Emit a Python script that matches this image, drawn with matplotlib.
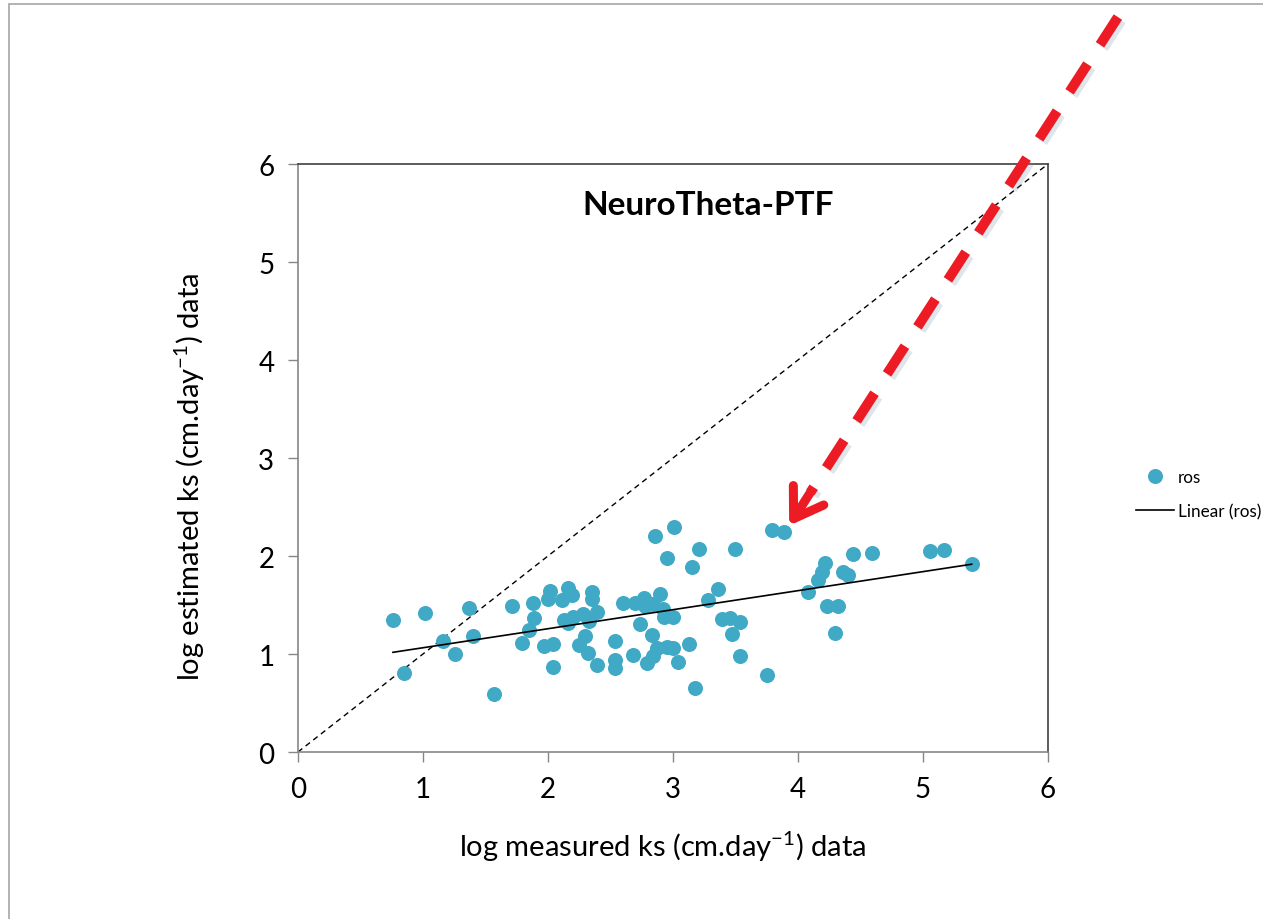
import numpy as np
import matplotlib
matplotlib.use("Agg")
import matplotlib.pyplot as plt
import matplotlib.patches as mpatches
import matplotlib.patheffects as pe

plt.rcParams['font.family'] = ['Lato', 'DejaVu Sans']
plt.rcParams['mathtext.fontset'] = 'custom'
plt.rcParams['mathtext.rm'] = 'Lato'

# log measured vs estimated ks
meas_ks = [0.76, 0.85, 1.02, 1.16, 1.26, 1.37, 1.40, 1.57, 1.71, 1.79,
           1.85, 1.88, 1.89, 1.97, 2.02, 2.00, 2.04, 2.04, 2.11, 2.16,
           2.19, 2.35, 2.35, 2.13, 2.16, 2.20, 2.28, 2.33, 2.39, 2.30,
           2.25, 2.32, 2.39, 2.54, 2.54, 2.54, 2.68, 2.60, 2.70, 2.77,
           2.78, 2.84, 2.90, 2.92, 2.93, 3.00, 2.74, 2.83, 2.87, 2.95,
           3.00, 2.84, 2.79, 3.04, 3.13, 3.18, 2.86, 3.01, 2.95, 3.21,
           3.15, 3.28, 3.36, 3.39, 3.46, 3.54, 3.47, 3.54, 3.75, 3.50,
           3.79, 3.89, 4.08, 4.16, 4.19, 4.22, 4.23, 4.32, 4.30, 4.36,
           4.40, 4.44, 4.59, 5.06, 5.17, 5.39]
est_ks = [1.35, 0.81, 1.42, 1.13, 1.00, 1.47, 1.18, 0.59, 1.49, 1.11,
          1.25, 1.52, 1.37, 1.08, 1.64, 1.56, 1.10, 0.87, 1.55, 1.67,
          1.60, 1.63, 1.56, 1.35, 1.32, 1.38, 1.41, 1.34, 1.43, 1.18,
          1.09, 1.01, 0.89, 1.13, 0.94, 0.86, 0.99, 1.52, 1.52, 1.57,
          1.49, 1.51, 1.61, 1.46, 1.38, 1.38, 1.31, 1.19, 1.06, 1.07,
          1.06, 0.98, 0.91, 0.92, 1.10, 0.65, 2.20, 2.30, 1.98, 2.07,
          1.89, 1.55, 1.66, 1.36, 1.37, 1.33, 1.20, 0.98, 0.79, 2.07,
          2.27, 2.25, 1.63, 1.76, 1.84, 1.93, 1.49, 1.49, 1.21, 1.84,
          1.81, 2.02, 2.03, 2.05, 2.06, 1.92]

axis_ticks = [0, 1, 2, 3, 4, 5, 6]
one_to_one = [0, 6]

# arrow pointing at the highlighted pair (data coords)
arrow_start = (6.56, 7.50)
arrow_tip = (3.93, 2.31)
arrow_neck = (4.10, 2.65)

fig = plt.figure(figsize=(12.63, 9.2), dpi=100)
ax = fig.add_axes([0.2359, 0.1815, 0.5938, 0.6391])

x = np.array(meas_ks)
y = np.array(est_ks)

ax.plot(one_to_one, one_to_one, color='black', lw=1.0, ls=(0, (4, 3)), zorder=2)
ax.plot(x, y, 'o', ms=10.8, color='#3fa9c6', mec='none', label='ros', zorder=3)

slope, icpt = np.polyfit(x, y, 1)
xf = np.array([x.min(), x.max()])
ax.plot(xf, slope * xf + icpt, color='black', lw=1.2, label='Linear (ros)', zorder=4)

ax.set_xlim(0, 6)
ax.set_ylim(0, 6)
ax.set_xticks(axis_ticks)
ax.set_yticks(axis_ticks)
ax.tick_params(direction='out', length=7, width=1, color='#868686',
               labelsize=20, pad=10)
for side in ['left', 'bottom']:
    ax.spines[side].set_color('#868686')
    ax.spines[side].set_linewidth(1.2)
for side in ['top', 'right']:
    ax.spines[side].set_color('#404040')
    ax.spines[side].set_linewidth(1.2)

ax.text(0.547, 0.932, 'NeuroTheta-PTF', transform=ax.transAxes,
        ha='center', va='center', fontsize=24, fontweight='bold')

fig.text(662.5 / 1263, 1 - 847 / 920, r'log measured ks (cm.day$^{-1}$) data',
         ha='center', va='center', fontsize=21)
fig.text(190 / 1263, 1 - 477 / 920, r'log estimated ks (cm.day$^{-1}$) data',
         ha='center', va='center', fontsize=21, rotation=90)

fig.legend(loc='center left', bbox_to_anchor=(1136 / 1263, 1 - 495 / 920),
           frameon=False, fontsize=12.3, handlelength=2.2, handletextpad=0.25,
           labelspacing=1.05, borderpad=0, borderaxespad=0)

# red dashed arrow with a soft shadow
shadow = [pe.SimpleLineShadow(offset=(2.5, -2.5), shadow_color='#6f8ea6', alpha=0.22),
          pe.Normal()]
ax.plot([arrow_start[0], arrow_neck[0]], [arrow_start[1], arrow_neck[1]],
        color='#ed1c24', lw=7.2, ls=(0, (3.3, 2.3)), solid_capstyle='butt',
        clip_on=False, zorder=6, path_effects=shadow)
ax.annotate('', xy=arrow_tip, xytext=arrow_neck, annotation_clip=False,
            arrowprops=dict(arrowstyle='->,head_length=2.0,head_width=1.3',
                            color='#ed1c24', lw=6.5, mutation_scale=10,
                            shrinkA=0, shrinkB=0, capstyle='round',
                            joinstyle='round'),
            zorder=6)

# thin outer frame of the slide
fig.patches.append(mpatches.Rectangle((9 / 1263, -0.1), 1.2, 0.1 + 1 - 5 / 920,
                                      transform=fig.transFigure, fill=False,
                                      edgecolor='#a6a6a6', lw=1.2))

fig.savefig('out.png', dpi=100)
